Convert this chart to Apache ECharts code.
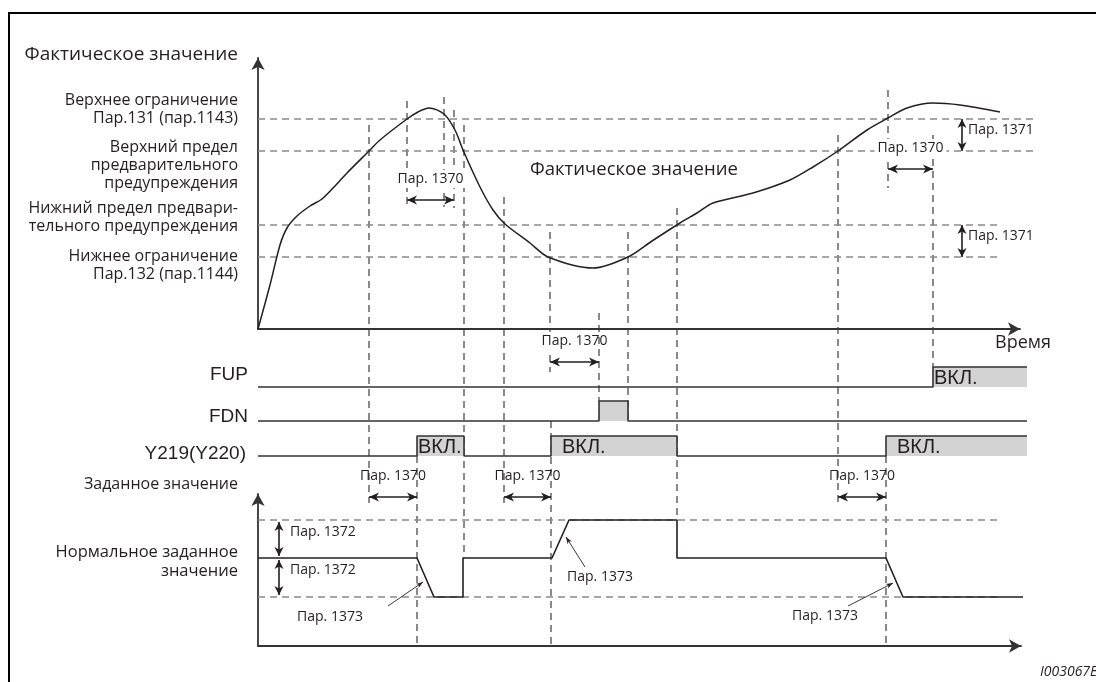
<!DOCTYPE html>
<html>
<head>
<meta charset="utf-8">
<script src="https://cdn.jsdelivr.net/npm/echarts@6.0.0/dist/echarts.min.js"></script>
<style>
html,body{margin:0;padding:0;background:#fff;}
#chart{width:1096px;height:682px;}
</style>
</head>
<body>
<div id="chart"></div>
<script>
// ===================== DATA =====================
// Actual value curve (time, value)
const actualTime  = [0,12,22,29,39,52,64,77,89,111,122,149,160,171,186,197,205,222,235,247,272,290,335,370,394,422,439,455,495,532,555,580,609,630,649,675,702,742];
const actualValue = [0,44,84,101,113,123,130,143,156,178,189,210,217,221,215,199,179,142,119,105,86,72,61,72,88,106,116,126,136,149,162,178,199,211,221,226,224,217];

// Limit levels: upper limit, upper pre-warning, lower pre-warning, lower limit
const limitLevels = [210, 178, 104, 72];
const limitEnds   = [780, 780, 742, 742];
const limitLabelLines = [
  ['Верхнее ограничение', 'Пар.131 (пар.1143)'],
  ['Верхний предел', 'предварительного', 'предупреждения'],
  ['Нижний предел предвари-', 'тельного предупреждения'],
  ['Нижнее ограничение', 'Пар.132 (пар.1144)']
];

// Output signals: ON intervals [start, end]
const signalEnd = 769;
const fupOn  = [[675, 769]];
const fdnOn  = [[341, 370]];
const y219On = [[159, 206], [293, 419], [628, 769]];

// Set point (time, value)
const setTime  = [0, 159, 176, 205, 205, 294, 311, 419, 419, 628, 645, 768];
const setValue = [88, 88, 49, 49, 88, 88, 126, 126, 88, 88, 49, 49];
const setLevels = [126, 88, 49];   // upper, normal, lower
const setLevelEnd = 740;

// Annotations
const delayArrowsA = [[149, 196, 129], [630, 675, 160], [292, 341, -33]];   // Пар. 1370
const delayArrowsS = [[111, 159, 149], [246, 293, 149], [580, 628, 149]];
const hystArrows   = [[704, 210, 178], [704, 104, 72]];                     // Пар. 1371
const bandArrows   = [[21, 126, 88], [21, 88, 49]];                          // Пар. 1372
const rampPointers = [[130, 40, 165, 64, 72, 29], [327, 79, 308, 109, 342, 69], [590, 40, 635, 63, 567, 30]]; // Пар. 1373

// Vertical guides: [time, panelFrom, valueFrom, panelTo, valueTo]
const guides = [
  [111, 'A', 204, 'S', 143],
  [149, 'A', 228, 'A', 121],
  [186, 'A', 232, 'A', 122],
  [196, 'A', 219, 'A', 121],
  [206, 'A', 204, 'S', 88],
  [159, 'Y', 0, 'S', 0],
  [246, 'A', 132, 'S', 143],
  [292, 'A', 97, 'A', -3],
  [292, 'A', -26, 'A', -43],
  [293, 'D', 0, 'S', 0],
  [341, 'A', 16, 'D', 1],
  [370, 'A', 97, 'D', 0],
  [419, 'A', 121, 'S', 126],
  [580, 'A', 194, 'S', 143],
  [630, 'A', 239, 'A', 141],
  [675, 'A', 194, 'F', 1],
  [628, 'Y', 0, 'S', 0]
];

// ===================== STYLE =====================
const FONT_RU = '"Open Sans", "Noto Sans", sans-serif';
const FONT_SIG = '"Liberation Sans", Arial, sans-serif';
const INK = '#231f20';
const AXIS = '#333333';
const fupPad = [1];
const y219Pad = [1, 11, 11];

const chart = echarts.init(document.getElementById('chart'), null, {renderer: 'canvas'});

function headPts(tip, from, len, w) {
  const dx = tip[0] - from[0], dy = tip[1] - from[1];
  const L = Math.hypot(dx, dy) || 1;
  const ux = dx / L, uy = dy / L, nx = -uy, ny = ux;
  const bx = tip[0] - ux * len, by = tip[1] - uy * len;
  const mx = tip[0] - ux * len * 0.72, my = tip[1] - uy * len * 0.72;
  return [[tip[0], tip[1]], [bx + nx * w / 2, by + ny * w / 2], [mx, my], [bx - nx * w / 2, by - ny * w / 2]];
}
function arrowChildren(p1, p2, both, lw, len, w) {
  const ch = [{type: 'line', shape: {x1: p1[0], y1: p1[1], x2: p2[0], y2: p2[1]}, style: {stroke: INK, lineWidth: lw}}];
  ch.push({type: 'polygon', shape: {points: headPts(p2, p1, len, w)}, style: {fill: INK}});
  if (both) ch.push({type: 'polygon', shape: {points: headPts(p1, p2, len, w)}, style: {fill: INK}});
  return ch;
}
function tstyle(text, font, align, extra) {
  return Object.assign({text: text, font: font, fill: INK, align: align, verticalAlign: 'middle',
    textAlign: align, textVerticalAlign: 'middle'}, extra || {});
}
function dashedRender(params, api) {
  const a = api.coord([api.value(0), api.value(2)]);
  const b = api.coord([api.value(1), api.value(2)]);
  return {type: 'line', shape: {x1: a[0], y1: a[1], x2: b[0], y2: b[1]},
    style: {stroke: '#8a8a8a', lineWidth: 1.4, lineDash: [7, 5]}};
}
function delayRender(bgIdx) {
  return function (params, api) {
    const a = api.coord([api.value(0), api.value(2)]);
    const b = api.coord([api.value(1), api.value(2)]);
    const ch = arrowChildren(a, b, true, 1.6, 10, 9);
    const bg = bgIdx.indexOf(params.dataIndex) >= 0;
    ch.push({type: 'text', x: (a[0] + b[0]) / 2, y: a[1] - 21,
      style: tstyle('Пар. 1370', '14px ' + FONT_RU, 'center', bg ? {backgroundColor: '#fff', padding: [2, 3]} : {})});
    return {type: 'group', children: ch};
  };
}
function vArrowRender(label, inset, dx, dy) {
  return function (params, api) {
    const a = api.coord([api.value(0), api.value(1)]);
    const b = api.coord([api.value(0), api.value(2)]);
    a[1] += inset; b[1] -= inset;
    const ch = arrowChildren(a, b, true, 1.6, 9, 9);
    ch.push({type: 'text', x: a[0] + dx, y: (a[1] + b[1]) / 2 + dy, style: tstyle(label, '14px ' + FONT_RU, 'left')});
    return {type: 'group', children: ch};
  };
}
function pointerRender(params, api) {
  const a = api.coord([api.value(0), api.value(1)]);
  const b = api.coord([api.value(2), api.value(3)]);
  const c = api.coord([api.value(4), api.value(5)]);
  const ch = arrowChildren(a, b, false, 0.9, 7, 5);
  ch.push({type: 'text', x: c[0], y: c[1], style: tstyle('Пар. 1373', '14px ' + FONT_RU, 'center')});
  return {type: 'group', children: ch};
}
function stepData(on, end) {
  const d = [[0, 0]];
  let last = 0;
  on.forEach(function (iv) {
    d.push([iv[0], 0], [iv[0], 1]);
    if (iv[1] < end) { d.push([iv[1], 1], [iv[1], 0]); } else { d.push([iv[1], 1]); }
    last = iv[1];
  });
  if (last < end) d.push([end, 0]);
  return d;
}
function mainX(gi, max) {
  return {type: 'value', gridIndex: gi, min: 0, max: max,
    axisLine: {show: true, onZero: false, symbol: ['none', 'arrow'], symbolSize: [10, 12], lineStyle: {color: AXIS, width: 1.8}},
    axisTick: {show: false}, axisLabel: {show: false}, splitLine: {show: false}};
}
function mainY(gi, max) {
  return {type: 'value', gridIndex: gi, min: 0, max: max,
    axisLine: {show: true, onZero: false, symbol: ['none', 'arrow'], symbolSize: [10, 12], lineStyle: {color: AXIS, width: 1.8}},
    axisTick: {show: false}, axisLabel: {show: false}, splitLine: {show: false}};
}
function hidden(gi, max) { return {type: 'value', gridIndex: gi, min: 0, max: max, show: false}; }
function sigSeries(gi, on) {
  return {type: 'line', xAxisIndex: gi, yAxisIndex: gi, data: stepData(on, signalEnd), showSymbol: false,
    clip: false, lineStyle: {color: '#333', width: 1.6}, areaStyle: {color: '#d3d3d3', opacity: 1, origin: 'start'}, z: 3};
}

const option = {
  animation: false,
  backgroundColor: '#fff',
  grid: [
    {left: 258, top: 58, width: 762, height: 271, outerBoundsMode: 'none'},
    {left: 258, top: 367, width: 770, height: 20, outerBoundsMode: 'none'},
    {left: 258, top: 401, width: 770, height: 20, outerBoundsMode: 'none'},
    {left: 258, top: 436, width: 770, height: 20, outerBoundsMode: 'none'},
    {left: 258, top: 494, width: 763, height: 152, outerBoundsMode: 'none'}
  ],
  xAxis: [mainX(0, 762), hidden(1, 770), hidden(2, 770), hidden(3, 770), mainX(4, 763)],
  yAxis: [mainY(0, 271), hidden(1, 1), hidden(2, 1), hidden(3, 1), mainY(4, 152)],
  series: [
    {type: 'line', xAxisIndex: 0, yAxisIndex: 0, smooth: 0.3, showSymbol: false, clip: false,
      data: actualTime.map(function (t, i) { return [t, actualValue[i]]; }),
      lineStyle: {color: INK, width: 1.5}, z: 4},
    {type: 'custom', xAxisIndex: 0, yAxisIndex: 0, renderItem: dashedRender, encode: {x: [0, 1], y: 2},
      data: limitLevels.map(function (v, i) { return [0, limitEnds[i], v]; }), z: 2},
    {type: 'custom', xAxisIndex: 0, yAxisIndex: 0, renderItem: delayRender([0, 1]), encode: {x: [0, 1], y: 2},
      data: delayArrowsA, z: 5},
    {type: 'custom', xAxisIndex: 0, yAxisIndex: 0, renderItem: vArrowRender('Пар. 1371', 0, 6, -5), encode: {x: 0, y: [1, 2]},
      data: hystArrows, z: 5},
    sigSeries(1, fupOn),
    sigSeries(2, fdnOn),
    sigSeries(3, y219On),
    {type: 'line', xAxisIndex: 4, yAxisIndex: 4, showSymbol: false, clip: false,
      data: setTime.map(function (t, i) { return [t, setValue[i]]; }),
      lineStyle: {color: INK, width: 1.6}, z: 4},
    {type: 'custom', xAxisIndex: 4, yAxisIndex: 4, renderItem: dashedRender, encode: {x: [0, 1], y: 2},
      data: [[0, setLevelEnd, setLevels[0]], [0, setLevelEnd, setLevels[2]]], z: 2},
    {type: 'custom', xAxisIndex: 4, yAxisIndex: 4, renderItem: delayRender([]), encode: {x: [0, 1], y: 2},
      data: delayArrowsS, z: 5},
    {type: 'custom', xAxisIndex: 4, yAxisIndex: 4, renderItem: vArrowRender('Пар. 1372', 2, 11, -7), encode: {x: 0, y: [1, 2]},
      data: bandArrows, z: 5},
    {type: 'custom', xAxisIndex: 4, yAxisIndex: 4, renderItem: pointerRender, encode: {x: [0, 2], y: [1, 3]},
      data: rampPointers, z: 5}
  ]
};
chart.setOption(option);

// ---------- guides and texts positioned through the grids' scales ----------
const gidx = {A: 0, F: 1, D: 2, Y: 3, S: 4};
function px(p, t, v) { return chart.convertToPixel({gridIndex: gidx[p]}, [t, v]); }
function txt(x, y, text, font, align, extra) {
  return {type: 'text', x: x, y: y, z: 6, silent: true, style: tstyle(text, font, align, extra)};
}
const g = [];
g.push({type: 'line', z: 6, shape: {x1: 8, y1: 13, x2: 1096, y2: 13}, style: {stroke: '#000', lineWidth: 2}});
g.push({type: 'line', z: 6, shape: {x1: 9, y1: 12, x2: 9, y2: 682}, style: {stroke: '#000', lineWidth: 2}});
guides.forEach(function (gd) {
  const a = px(gd[1], gd[0], gd[2]);
  const b = px(gd[3], gd[0], gd[4]);
  g.push({type: 'line', z: 1, silent: true, shape: {x1: a[0], y1: a[1], x2: b[0], y2: b[1]},
    style: {stroke: '#3d3d3d', lineWidth: 1.2, lineDash: [7, 5]}});
});
const limitShift = [-19, -4, -17, -1];
limitLevels.forEach(function (lv, i) {
  const y0 = px('A', 0, lv)[1] + limitShift[i];
  limitLabelLines[i].forEach(function (s, k) { g.push(txt(238, y0 + k * 18, s, '16px ' + FONT_RU, 'right')); });
});
g.push(txt(238, 55, 'Фактическое значение', '19px ' + FONT_RU, 'right'));
const mid = px('A', 272, 159);
g.push(txt(mid[0], mid[1], 'Фактическое значение', '18.5px ' + FONT_RU, 'left'));
const tm = px('A', 737, -14);
g.push(txt(tm[0], tm[1], 'Время', '18px ' + FONT_RU, 'left'));
g.push(txt(248, px('F', 0, 0)[1] - 12, 'FUP', '19px ' + FONT_SIG, 'right'));
g.push(txt(248, px('D', 0, 0)[1] - 4, 'FDN', '19px ' + FONT_SIG, 'right'));
g.push(txt(246, px('Y', 0, 0)[1] - 2, 'Y219(Y220)', '19px ' + FONT_SIG, 'right'));
[['F', fupOn, fupPad], ['Y', y219On, y219Pad]].forEach(function (s) {
  s[1].forEach(function (iv, k) {
    const q = px(s[0], iv[0], 0.5);
    g.push(txt(q[0] + s[2][k], q[1] + 1, 'ВКЛ.', '20px ' + FONT_SIG, 'left'));
  });
});
g.push(txt(238, 484, 'Заданное значение', '16px ' + FONT_RU, 'right'));
const ny = px('S', 0, setLevels[1])[1];
g.push(txt(238, ny - 6, 'Нормальное заданное', '16.5px ' + FONT_RU, 'right'));
g.push(txt(238, ny + 13, 'значение', '16.5px ' + FONT_RU, 'right'));
g.push(txt(1040, 672, 'I003067E', 'italic 14px ' + FONT_RU, 'left'));
chart.setOption({graphic: {elements: g}});
</script>
</body>
</html>
